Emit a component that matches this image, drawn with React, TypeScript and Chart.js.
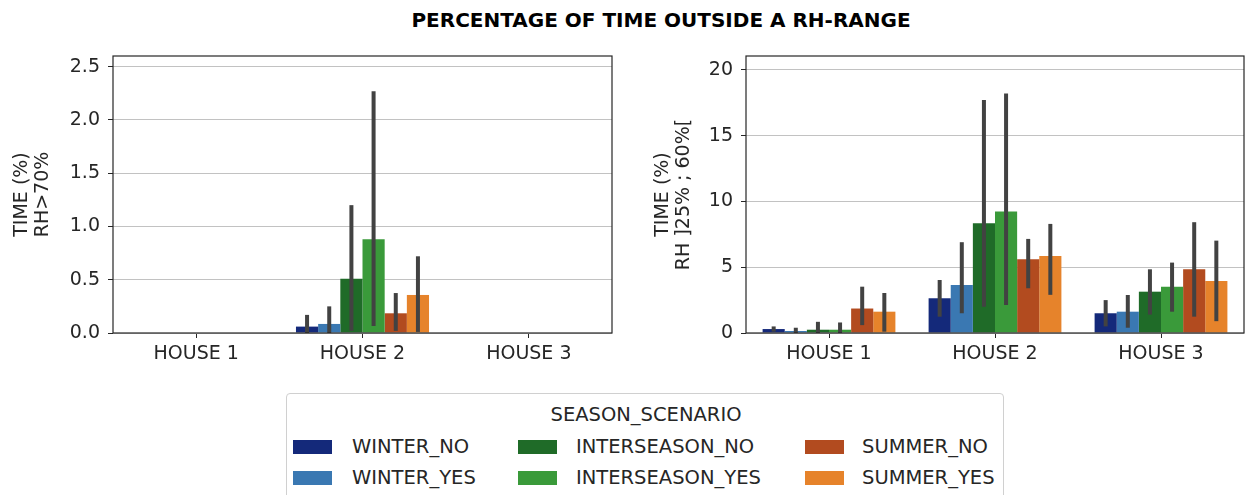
import React, { useEffect, useRef } from "react";
import { Chart, registerables } from "chart.js";

Chart.register(...registerables);

// ---------- data ----------
const houses = ["HOUSE 1", "HOUSE 2", "HOUSE 3"];
const seasonScenarios = [
  "WINTER_NO",
  "WINTER_YES",
  "INTERSEASON_NO",
  "INTERSEASON_YES",
  "SUMMER_NO",
  "SUMMER_YES",
];
const scenarioColors = ["#14297a", "#3a78b2", "#1f6b28", "#3a9a3a", "#b24b1f", "#e6832b"];

// Left panel: RH > 70 %  (rows = scenarios, cols = houses)
const above70Mean = [
  [0, 0.06, 0],
  [0, 0.085, 0],
  [0, 0.51, 0],
  [0, 0.88, 0],
  [0, 0.185, 0],
  [0, 0.357, 0],
];
const above70Low = [
  [0, 0.0, 0],
  [0, 0.0, 0],
  [0, 0.02, 0],
  [0, 0.065, 0],
  [0, 0.02, 0],
  [0, 0.01, 0],
];
const above70High = [
  [0, 0.17, 0],
  [0, 0.25, 0],
  [0, 1.2, 0],
  [0, 2.27, 0],
  [0, 0.375, 0],
  [0, 0.72, 0],
];
const above70Ticks = [0, 0.5, 1.0, 1.5, 2.0, 2.5];
const above70Max = 2.6;

// Right panel: RH ]25% ; 60%[
const rangeMean = [
  [0.3, 2.64, 1.5],
  [0.15, 3.65, 1.62],
  [0.25, 8.34, 3.14],
  [0.25, 9.23, 3.52],
  [1.86, 5.6, 4.84],
  [1.62, 5.85, 3.95],
];
const rangeLow = [
  [0.1, 1.24, 0.5],
  [0.0, 1.5, 0.4],
  [0.0, 2.0, 1.4],
  [0.0, 2.13, 1.62],
  [0.6, 3.4, 1.24],
  [0.1, 2.9, 0.9],
];
const rangeHigh = [
  [0.5, 4.03, 2.5],
  [0.4, 6.9, 2.89],
  [0.85, 17.7, 4.84],
  [0.8, 18.2, 5.35],
  [3.52, 7.15, 8.42],
  [3.04, 8.29, 7.02],
];
const rangeTicks = [0, 5, 10, 15, 20];
const rangeMax = 21.05;

const chartTitle = "PERCENTAGE OF TIME OUTSIDE A RH-RANGE";
const legendTitle = "SEASON_SCENARIO";
const leftAxisTitle = ["TIME (%)", "RH>70%"];
const rightAxisTitle = ["TIME (%)", "RH ]25% ; 60%["];

// ---------- styling ----------
const FONT = "'DejaVu Sans', 'Liberation Sans', sans-serif";
const TEXT = "#262626";

const errorBarPlugin = {
  id: "errorBarsAndFrame",
  afterDraw(chart: any) {
    const { ctx, chartArea } = chart;
    const yScale = chart.scales.y;
    ctx.save();
    ctx.strokeStyle = "#424242";
    ctx.lineWidth = 4;
    ctx.lineCap = "butt";
    chart.data.datasets.forEach((ds: any, i: number) => {
      const meta = chart.getDatasetMeta(i);
      meta.data.forEach((bar: any, j: number) => {
        const lo = ds.errLow[j];
        const hi = ds.errHigh[j];
        if (hi - lo <= 0) return;
        ctx.beginPath();
        ctx.moveTo(bar.x, yScale.getPixelForValue(lo));
        ctx.lineTo(bar.x, yScale.getPixelForValue(hi));
        ctx.stroke();
      });
    });
    ctx.strokeStyle = TEXT;
    ctx.lineWidth = 1.2;
    ctx.strokeRect(
      chartArea.left,
      chartArea.top,
      chartArea.right - chartArea.left,
      chartArea.bottom - chartArea.top
    );
    ctx.restore();
  },
};

function makeConfig(
  mean: number[][],
  low: number[][],
  high: number[][],
  tickValues: number[],
  yMax: number,
  decimals: number,
  axisTitle: string[],
  titlePadTop: number,
  yWidth: number,
  padRight: number,
  canvasHeight: number
): any {
  return {
    type: "bar",
    data: {
      labels: houses,
      datasets: seasonScenarios.map((name, i) => ({
        label: name,
        data: mean[i],
        errLow: low[i],
        errHigh: high[i],
        backgroundColor: scenarioColors[i],
        borderWidth: 0,
        categoryPercentage: 0.8,
        barPercentage: 1.0,
      })),
    },
    options: {
      animation: false,
      responsive: false,
      maintainAspectRatio: false,
      devicePixelRatio: 1,
      layout: { padding: { top: 56, right: padRight, left: 0, bottom: 0 } },
      plugins: {
        legend: { display: false },
        title: { display: false },
        tooltip: { enabled: false },
      },
      scales: {
        x: {
          type: "category",
          grid: {
            display: true,
            drawOnChartArea: false,
            drawTicks: true,
            tickLength: 5,
            offset: false,
            tickColor: TEXT,
          },
          border: { display: false },
          ticks: {
            color: TEXT,
            font: { family: FONT, size: 19 },
            padding: 5,
            maxRotation: 0,
          },
          afterFit: (scale: any) => {
            scale.height = canvasHeight - 333;
          },
        },
        y: {
          type: "linear",
          min: 0,
          max: yMax,
          z: 1,
          grid: {
            color: "#c2c2c2",
            lineWidth: 1,
            drawTicks: true,
            tickLength: 5,
            tickColor: TEXT,
          },
          border: { display: false },
          ticks: {
            color: TEXT,
            font: { family: FONT, size: 19 },
            padding: 8,
            callback: (v: any) => Number(v).toFixed(decimals),
          },
          afterBuildTicks: (scale: any) => {
            scale.ticks = tickValues.map((v) => ({ value: v }));
          },
          afterFit: (scale: any) => {
            scale.width = yWidth;
          },
          title: {
            display: true,
            text: axisTitle,
            color: TEXT,
            font: { family: FONT, size: 19, lineHeight: 1.1 },
            padding: { top: titlePadTop, bottom: 0 },
          },
        },
      },
    },
    plugins: [errorBarPlugin],
  };
}

const CANVAS_H = 385;

function BarPanel(props: { config: any; left: number; width: number }) {
  const ref = useRef<HTMLCanvasElement | null>(null);
  useEffect(() => {
    if (!ref.current) return;
    const chart = new Chart(ref.current, props.config);
    return () => chart.destroy();
  }, []);
  return (
    <canvas
      ref={ref}
      width={props.width}
      height={CANVAS_H}
      style={{
        position: "absolute",
        left: props.left,
        top: 0,
        width: props.width,
        height: CANVAS_H,
      }}
    />
  );
}

const legendCols = [
  { swatch: 293, text: 352 },
  { swatch: 518, text: 576 },
  { swatch: 805, text: 862 },
];
const legendRows = [447, 478];

export default function App() {
  const leftConfig = makeConfig(
    above70Mean,
    above70Low,
    above70High,
    above70Ticks,
    above70Max,
    1,
    leftAxisTitle,
    11.5,
    113,
    8,
    CANVAS_H
  );
  const rightConfig = makeConfig(
    rangeMean,
    rangeLow,
    rangeHigh,
    rangeTicks,
    rangeMax,
    0,
    rightAxisTitle,
    32.5,
    126,
    1,
    CANVAS_H
  );

  return (
    <div
      style={{
        position: "fixed",
        left: 0,
        top: 0,
        width: 1245,
        height: 495,
        overflow: "hidden",
        background: "#ffffff",
        fontFamily: FONT,
        color: TEXT,
      }}
    >
      <div
        style={{
          position: "absolute",
          left: 661,
          top: 20,
          transform: "translate(-50%, -50%)",
          whiteSpace: "nowrap",
          fontWeight: "bold",
          fontSize: 20,
          lineHeight: "24px",
          color: "#000000",
        }}
      >
        {chartTitle}
      </div>

      <BarPanel config={leftConfig} left={0} width={620} />
      <BarPanel config={rightConfig} left={620} width={625} />

      <div
        style={{
          position: "absolute",
          left: 286,
          top: 393,
          width: 718,
          height: 130,
          border: "1px solid #d0d0d0",
          borderRadius: 4,
          boxSizing: "border-box",
          background: "#ffffff",
        }}
      />
      <div
        style={{
          position: "absolute",
          left: 646,
          top: 415,
          transform: "translate(-50%, -50%)",
          whiteSpace: "nowrap",
          fontSize: 19.5,
          lineHeight: "24px",
        }}
      >
        {legendTitle}
      </div>
      {seasonScenarios.map((name, i) => {
        const col = legendCols[Math.floor(i / 2)];
        const rowY = legendRows[i % 2];
        return (
          <React.Fragment key={name}>
            <div
              style={{
                position: "absolute",
                left: col.swatch,
                top: rowY - 7,
                width: 39,
                height: 14,
                background: scenarioColors[i],
              }}
            />
            <div
              style={{
                position: "absolute",
                left: col.text,
                top: rowY - 12,
                whiteSpace: "nowrap",
                fontSize: 19.5,
                lineHeight: "24px",
              }}
            >
              {name}
            </div>
          </React.Fragment>
        );
      })}
    </div>
  );
}
